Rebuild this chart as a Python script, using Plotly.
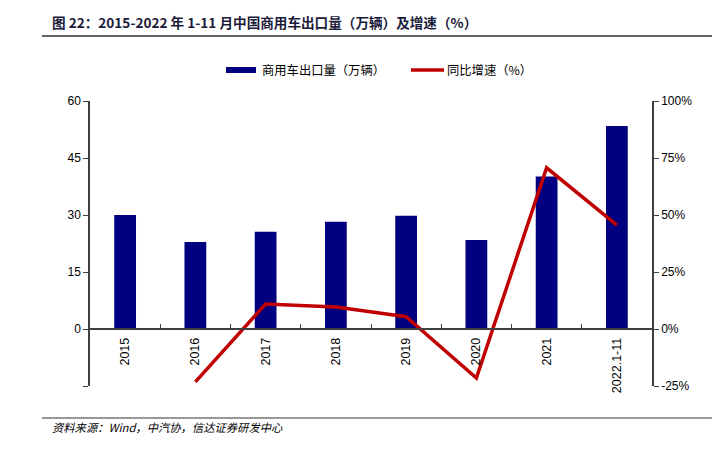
import plotly.graph_objects as go

categories = ["2015", "2016", "2017", "2018", "2019", "2020", "2021", "2022.1-11"]
exports = [30.0, 22.9, 25.6, 28.2, 29.8, 23.4, 40.1, 53.4]
growth_years = ["2016", "2017", "2018", "2019", "2020", "2021", "2022.1-11"]
growth = [-23.2, 11.0, 9.6, 5.4, -21.5, 70.7, 45.6]
left_ticks = [-15, 0, 15, 30, 45, 60]
left_labels = ["", "0", "15", "30", "45", "60"]
right_ticks = [-25, 0, 25, 50, 75, 100]
right_labels = ["-25%", "0%", "25%", "50%", "75%", "100%"]

BAR = "#000080"
RED = "#C00000"
AX = "#404040"
FONT = "Liberation Sans, Arial, sans-serif"
CJK = "Noto Sans CJK SC"

fig = go.Figure()
fig.add_trace(go.Bar(x=categories, y=exports, marker_color=BAR, width=0.31,
                     marker_line_width=0, name="商用车出口量（万辆）", yaxis="y"))
fig.add_trace(go.Scatter(x=growth_years, y=growth, mode="lines",
                         line=dict(color=RED, width=3.5), name="同比增速（%）", yaxis="y2"))

fig.update_layout(
    width=727, height=456,
    margin=dict(l=90, r=75, t=101, b=70, autoexpand=False),
    paper_bgcolor="white", plot_bgcolor="white",
    showlegend=False,
    font=dict(family=FONT, size=12, color="#000000"),
    xaxis=dict(type="category", anchor="free", position=0.2, automargin=False,
               showline=True, linecolor=AX, linewidth=1.5,
               ticks="inside", tickson="boundaries", ticklen=4, tickcolor=AX,
               tickangle=-90, showgrid=False, zeroline=False, ticklabelstandoff=3,
               tickfont=dict(family=FONT, size=12.5, color="#000000")),
    yaxis=dict(range=[-15, 60], tickvals=left_ticks, ticktext=left_labels,
               showline=True, linecolor=AX, automargin=False,
               linewidth=1.5, ticks="outside", ticklen=5, tickcolor=AX,
               showgrid=False, zeroline=False,
               tickfont=dict(family=FONT, size=12, color="#000000")),
    yaxis2=dict(range=[-25, 100], overlaying="y", side="right", automargin=False,
                tickvals=right_ticks, ticktext=right_labels, showline=True,
                linecolor=AX, linewidth=1.5, ticks="outside", ticklen=5, tickcolor=AX,
                showgrid=False, zeroline=False,
                tickfont=dict(family=FONT, size=12, color="#000000")),
)

def px_x(p):
    return (p - 90) / 562
def px_y(p):
    return (386 - p) / 285

# Title and source
fig.add_annotation(xref="paper", yref="paper", x=px_x(50), y=px_y(22), xanchor="left", yanchor="middle",
                   text="<b>图 22：2015-2022 年 1-11 月中国商用车出口量（万辆）及增速（%）</b>",
                   showarrow=False, font=dict(family=CJK, size=13.6, color="#1a1a3a"))
fig.add_shape(type="line", xref="paper", yref="paper", x0=px_x(42), x1=px_x(712),
              y0=px_y(36), y1=px_y(36), line=dict(color="#333333", width=1.5))
fig.add_annotation(xref="paper", yref="paper", x=px_x(50), y=px_y(427), xanchor="left", yanchor="middle",
                   text="<i>资料来源：Wind，中汽协，信达证券研发中心</i>",
                   showarrow=False, font=dict(family=CJK, size=11.3, color="#000000"))
fig.add_shape(type="line", xref="paper", yref="paper", x0=px_x(42), x1=px_x(712),
              y0=px_y(418), y1=px_y(418), line=dict(color="#333333", width=1.2))

# Legend (manual)
fig.add_shape(type="rect", xref="paper", yref="paper", x0=px_x(226), x1=px_x(256),
              y0=px_y(73), y1=px_y(67), fillcolor=BAR, line_width=0)
fig.add_annotation(xref="paper", yref="paper", x=px_x(260), y=px_y(70), xanchor="left",
                   yanchor="middle", text="商用车出口量（万辆）", showarrow=False,
                   font=dict(family=CJK, size=12.3, color="#000000"))
fig.add_shape(type="line", xref="paper", yref="paper", x0=px_x(411), x1=px_x(444),
              y0=px_y(70), y1=px_y(70), line=dict(color=RED, width=3.5))
fig.add_annotation(xref="paper", yref="paper", x=px_x(445), y=px_y(70), xanchor="left",
                   yanchor="middle", text="同比增速（%）", showarrow=False,
                   font=dict(family=CJK, size=12.3, color="#000000"))

fig.write_html("out.html", config={"displayModeBar": False},
               post_script="document.body.style.margin='0';")
